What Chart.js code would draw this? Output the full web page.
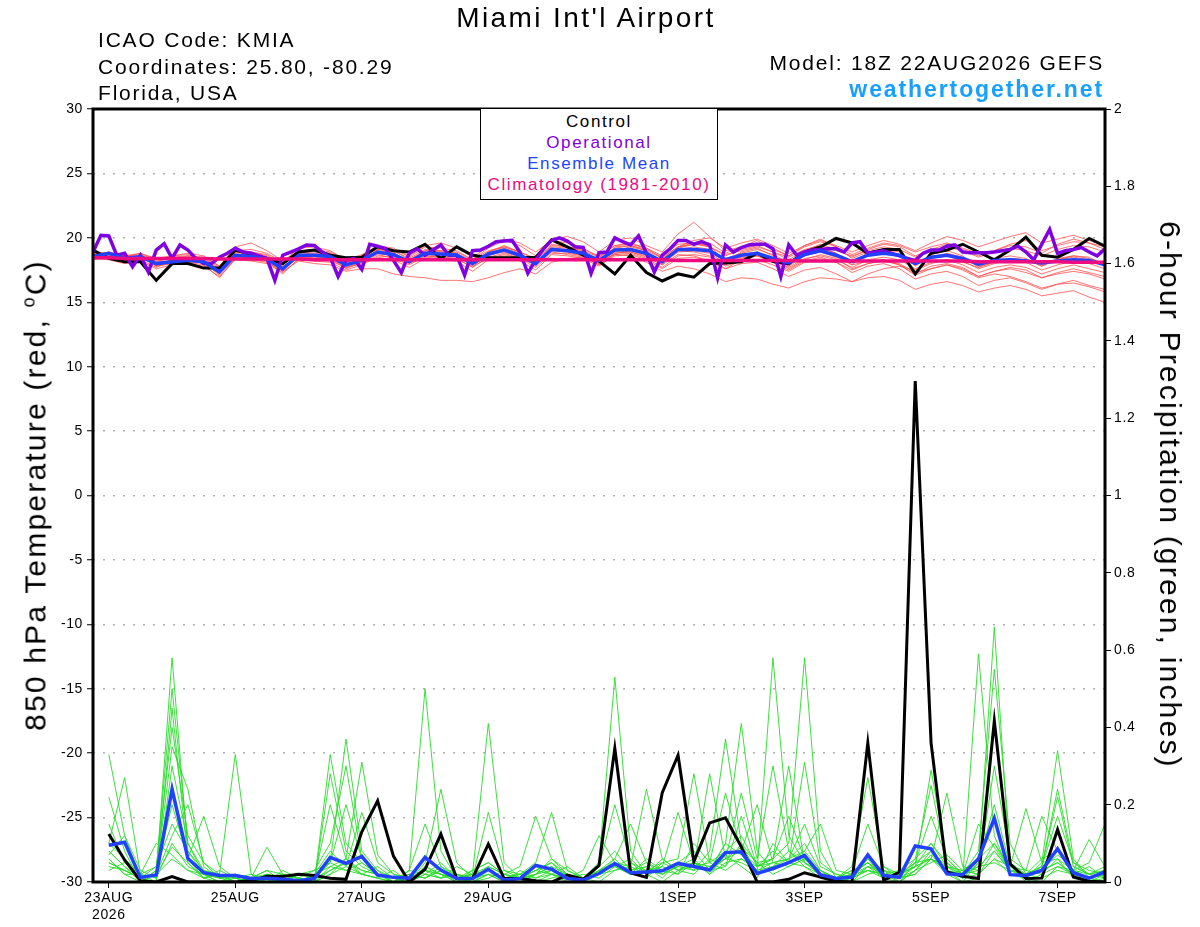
<!DOCTYPE html>
<html>
<head>
<meta charset="utf-8">
<title>Miami Int'l Airport - GEFS</title>
<script src="https://cdn.jsdelivr.net/npm/chart.js@4.4.1/dist/chart.umd.min.js"></script>
<style>
  body { margin: 0; background: #fff; font-family: "Liberation Sans", Arial, sans-serif; }
  #wrap { position: relative; width: 1200px; height: 927px; overflow: hidden; }
  #chart { position: absolute; left: 0; top: 0; }
  .txt { position: absolute; white-space: nowrap; color: #000; }
  #title { left: 0; width: 1172px; top: 2px; text-align: center; font-size: 28px; line-height: 32px; letter-spacing: 2.4px; }
  #info { left: 98px; top: 27px; font-size: 21px; line-height: 26.5px; letter-spacing: 1.8px; }
  #model { right: 96px; top: 50px; font-size: 21px; line-height: 26px; letter-spacing: 1.8px; text-align: right; }
  #site { right: 96px; top: 76px; font-size: 23px; line-height: 26px; letter-spacing: 1.9px; font-weight: bold; color: #19a0ff; text-align: right; }
  #legend { position: absolute; left: 480px; top: 108px; width: 236px; height: 88px; border: 1px solid #000;
            background: #fff; text-align: center; font-size: 17px; line-height: 21px; letter-spacing: 1.6px; padding-top: 2px; }
  .axt { position: absolute; white-space: nowrap; font-size: 30px; letter-spacing: 2.2px; line-height: 34px; color: #000; }
  #ytitle { left: 32px; top: 495px; transform: translate(-50%, -50%) rotate(-90deg); }
  #y2title { left: 1170px; top: 495px; transform: translate(-50%, -50%) rotate(90deg); }
</style>
</head>
<body>
<div id="wrap">
  <canvas id="chart" width="1200" height="927"></canvas>
  <div class="txt" id="title">Miami Int'l Airport</div>
  <div class="txt" id="info">ICAO Code: KMIA<br>Coordinates: 25.80, -80.29<br>Florida, USA</div>
  <div class="txt" id="model">Model: 18Z 22AUG2026 GEFS</div>
  <div class="txt" id="site">weathertogether.net</div>
  <div class="axt" id="ytitle">850 hPa Temperature (red, <sup style="font-size:18px">o</sup>C)</div>
  <div class="axt" id="y2title">6-hour Precipitation (green, inches)</div>
  <div id="legend">
    <div style="color:#000">Control</div>
    <div style="color:#7f00dd">Operational</div>
    <div style="color:#2244ff">Ensemble Mean</div>
    <div style="color:#ee0a80">Climatology (1981-2010)</div>
  </div>
</div>
<script>
// hours after 18Z 22AUG2026; temperatures every 6 h (65), operational every 3 h (129),
// precipitation totals ending every 6 h from 00Z 23AUG (64)
const tickHours = [6, 54, 102, 150, 222, 270, 318, 366];
const tickLabels = ['23AUG\n2026', '25AUG', '27AUG', '29AUG', '1SEP', '3SEP', '5SEP', '7SEP'];

// 850 hPa temperature (C)
const tempControl = [
  19.05,18.4,18.15,18.15,16.7, 18.0,18.0,17.65,17.65,19.05,
  18.7,18.4,18.0,18.9,19.05, 18.65,18.45,18.5,19.3,19.0,
  18.9,19.5,18.4,19.3,18.65, 18.45,18.45,18.45,18.5,19.85,
  19.3,18.65,18.2,17.2,18.65, 17.3,16.65,17.2,16.95,18.0,
  18.05,18.15,18.8,18.15,18.0, 18.9,19.3,19.95,19.6,18.8,
  19.1,19.1,17.2,18.8,19.05, 19.5,18.9,18.3,19.05,20.05,
  18.65,18.5,19.1,19.95,19.35
];
const tempOperational = [
  18.9,20.2,20.15,18.65,18.8,17.75,18.65,17.35,19.05,19.55,
  18.4,19.45,19.05,18.4,18.0,18.0,18.5,18.8,19.2,18.9,
  18.8,18.6,18.4,16.7,18.65,18.9,19.15,19.45,19.4,18.9,
  18.5,17.0,18.25,18.4,17.55,19.5,19.35,19.15,18.25,17.3,
  18.8,19.15,18.65,19.05,19.45,18.65,18.65,17.1,19.0,19.05,
  19.35,19.7,19.75,19.8,18.9,17.25,18.3,19.15,19.8,20.0,
  19.75,19.3,19.25,17.25,18.85,18.9,20.0,19.7,19.45,20.15,
  18.8,17.35,18.65,19.15,19.8,19.8,19.5,19.7,19.45,16.9,
  19.45,18.9,19.25,19.45,19.5,19.5,19.15,17.0,19.45,18.65,
  18.9,19.05,19.1,19.15,19.15,18.9,19.6,19.7,18.8,18.9,
  19.0,18.8,18.6,18.4,18.25,18.8,19.05,19.05,19.35,19.45,
  18.9,18.85,18.85,18.85,18.9,19.0,19.1,19.35,18.9,18.3,
  19.5,20.65,18.8,19.0,19.1,19.25,18.9,18.6,19.15
];
const tempMean = [
  18.55,18.8,18.4,18.55,18.0, 18.15,18.25,18.15,17.35,18.65,
  18.55,18.35,17.6,18.65,18.65, 18.55,17.9,18.25,18.9,18.7,
  18.15,18.8,18.75,18.65,18.0, 18.75,19.05,18.65,18.0,19.1,
  19.0,18.8,18.25,19.05,19.1, 18.8,18.15,19.1,19.1,19.0,
  18.3,18.65,18.8,18.4,18.05, 18.7,19.0,18.65,18.15,18.65,
  18.8,18.65,18.0,18.5,18.65, 18.4,17.95,18.25,18.3,18.2,
  18.05,18.2,18.3,18.25,17.9
];
const tempClimo = [
  18.45,18.45,18.4,18.4,18.4, 18.4,18.4,18.4,18.35,18.35,
  18.35,18.35,18.35,18.35,18.3, 18.3,18.3,18.3,18.3,18.3,
  18.3,18.3,18.3,18.3,18.3, 18.3,18.3,18.3,18.3,18.3,
  18.3,18.3,18.3,18.3,18.3, 18.3,18.3,18.25,18.25,18.25,
  18.25,18.25,18.25,18.25,18.25, 18.2,18.2,18.2,18.2,18.2,
  18.2,18.2,18.2,18.2,18.2, 18.2,18.15,18.15,18.15,18.15,
  18.15,18.15,18.1,18.1,18.1
];
const tempMembers = [
  [18.9,18.6,18.2,18.7,17.8, 18.3,18.6,18.0,17.2,18.9, 18.8,18.2,17.4,18.9,18.7, 18.5,17.6,18.1,19.1,18.9,
   18.0,19.0,19.0,18.8,17.7, 18.9,19.4,18.9,17.8,19.5, 19.3,19.0,18.0,19.3,19.4, 19.0,17.9,19.3,19.6,19.4,
   18.1,18.9,19.2,18.6,17.8, 19.0,19.3,18.8,17.9,18.9, 19.1,18.9,17.8,18.7,19.0, 18.6,17.7,18.4,18.6,18.4,
   17.8,18.4,18.6,18.5,17.8],
  [18.7,18.9,18.6,18.4,18.2, 18.4,18.5,18.3,17.6,18.8, 18.9,18.6,17.9,18.8,18.9, 18.8,18.2,18.5,19.2,19.0,
   18.4,19.1,19.0,18.9,18.3, 19.0,19.3,18.9,18.4,19.4, 19.3,19.1,18.6,19.4,19.5, 19.2,18.6,19.5,19.6,19.3,
   18.7,19.0,19.3,18.9,18.5, 19.1,19.4,19.0,18.6,19.0, 19.3,19.1,18.5,19.0,19.3, 19.0,18.5,18.9,19.2,19.0,
   18.6,19.1,19.4,19.3,18.9],
  [18.4,18.3,18.0,18.2,17.6, 17.9,18.0,17.8,17.0,18.3, 18.2,18.0,17.3,18.3,18.2, 18.1,17.5,17.9,18.5,18.3,
   17.7,18.4,18.3,18.2,17.4, 18.3,18.6,18.2,17.5,18.7, 18.6,18.4,17.8,18.7,18.8, 18.4,17.7,18.6,18.7,18.5,
   17.8,18.2,18.3,17.9,17.4, 18.1,18.4,18.1,17.5,18.0, 18.2,17.9,17.2,17.8,18.0, 17.7,17.0,17.4,17.6,17.3,
   16.9,17.2,17.4,17.2,16.8],
  [18.6,18.7,18.5,18.8,18.3, 18.4,18.3,18.4,17.7,18.6, 18.4,18.5,17.8,18.5,18.4, 18.6,18.1,18.4,18.8,18.6,
   18.2,18.6,18.5,18.5,18.1, 18.7,18.9,18.5,18.1,19.0, 18.9,18.6,18.4,19.1,19.2, 18.8,18.3,19.2,19.5,19.6,
   18.8,19.3,19.8,19.1,18.6, 19.4,19.9,19.3,18.4,18.9, 19.1,18.7,18.0,18.4,18.6, 18.2,17.6,18.0,18.3,18.1,
   17.5,17.9,18.2,18.0,17.6],
  [18.8,18.5,18.3,18.4,17.9, 18.0,18.2,18.1,17.1,18.4, 18.3,18.1,17.4,18.2,18.0, 17.9,17.4,17.6,17.6,17.2,
   17.0,16.9,16.7,16.7,16.6, 16.9,17.3,17.6,17.2,18.1, 18.4,18.5,17.9,18.8,19.0, 18.7,18.1,19.0,19.1,18.9,
   18.2,18.7,18.9,18.4,17.8, 18.6,18.9,18.5,17.9,18.2, 18.3,18.0,17.3,17.6,17.9, 17.5,16.9,17.2,17.0,16.6,
   16.1,16.4,16.5,16.2,15.8],
  [18.5,18.8,18.7,18.5,18.1, 18.6,18.7,18.3,17.5,19.0, 19.1,18.8,18.1,19.2,19.3, 19.0,18.3,18.6,19.4,19.2,
   18.5,19.3,19.2,19.0,18.3, 19.2,19.8,19.4,18.6,19.9, 20.1,19.7,18.9,19.8,20.0, 19.4,18.9,20.3,21.2,20.1,
   19.0,19.3,19.6,19.2,18.6, 19.3,19.7,19.3,18.7,19.2, 19.6,19.4,18.9,19.3,19.6, 19.2,18.8,19.0,19.4,19.3,
   18.8,19.5,19.9,19.6,19.1],
  [18.6,18.4,18.1,18.5,17.9, 18.2,18.4,18.0,17.3,18.7, 18.6,18.3,17.6,18.7,18.6, 18.4,17.8,18.3,18.9,18.7,
   18.1,18.8,18.7,18.6,17.9, 18.6,19.0,18.6,17.9,19.1, 19.0,18.7,18.1,18.9,18.9, 18.5,17.9,18.7,18.6,18.2,
   17.6,18.0,18.1,17.6,17.0, 17.5,17.7,17.2,16.6,16.9, 17.0,16.7,16.0,16.4,16.6, 16.3,15.8,16.1,16.3,16.0,
   15.5,15.7,15.9,15.4,15.0],
  [18.7,18.6,18.4,18.6,18.0, 18.1,18.3,18.2,17.4,18.6, 18.7,18.3,17.5,18.6,18.8, 18.7,18.0,18.4,19.0,18.8,
   18.2,18.9,18.9,18.7,18.0, 18.8,19.2,18.8,18.0,19.2, 19.1,18.9,18.3,19.0,19.3, 19.0,18.4,19.1,19.3,19.1,
   18.4,18.8,19.1,18.7,18.1, 18.8,19.2,18.8,18.1,18.6, 18.9,18.6,17.9,18.5,18.8, 18.5,17.8,18.1,18.4,18.3,
   17.8,18.3,18.5,18.3,17.9],
  [18.8,18.7,18.5,18.3,17.7, 18.2,18.1,17.9,16.9,18.4, 18.3,18.2,17.2,18.4,18.5, 18.3,17.7,18.1,18.7,18.4,
   17.9,18.6,18.5,18.4,17.7, 18.5,18.8,18.4,17.7,18.8, 18.8,18.6,17.9,18.6,18.7, 18.3,17.6,18.4,18.5,18.2,
   17.6,18.3,18.6,18.1,17.5, 18.2,18.5,18.1,17.3,17.8, 18.0,17.6,16.8,17.2,17.4, 17.0,16.3,16.7,16.9,16.5,
   16.0,16.4,16.7,16.3,16.0],
  [18.9,18.8,18.5,18.7,18.3, 18.5,18.6,18.5,17.8,19.3, 19.6,19.0,18.2,19.0,19.1, 18.9,18.3,18.7,19.3,19.1,
   18.6,19.4,19.6,19.2,18.5, 19.3,19.9,19.6,18.9,19.8, 19.6,19.2,18.5,19.4,19.6, 19.2,18.4,19.3,19.5,19.3,
   18.6,19.1,19.4,18.9,18.3, 19.0,19.5,19.1,18.5,19.1, 19.5,19.3,18.6,19.1,19.5, 19.1,18.6,19.0,19.5,19.8,
   19.0,19.4,19.7,19.6,19.3],
  [18.3,18.5,18.3,18.6,17.8, 18.0,18.1,18.1,17.4,18.5, 18.5,18.4,17.7,18.5,18.4, 18.2,17.7,18.0,18.6,18.5,
   18.0,18.5,18.4,18.3,17.8, 18.4,18.7,18.4,17.9,18.9, 18.7,18.5,18.0,18.8,18.9, 18.6,18.0,18.9,19.0,18.8,
   18.0,18.5,18.6,18.2,17.7, 18.4,18.6,18.3,17.7,18.3, 18.5,18.3,17.6,18.1,18.3, 17.9,17.3,17.7,17.9,17.7,
   17.2,17.6,17.9,17.6,17.3],
  [18.5,18.9,18.6,18.8,18.4, 18.6,18.8,18.6,17.8,18.9, 18.9,18.7,17.9,18.9,19.0, 18.8,18.2,18.6,19.1,19.0,
   18.3,19.0,18.9,18.8,18.2, 18.9,19.3,18.9,18.3,19.3, 19.2,19.0,18.5,19.2,19.4, 19.1,18.5,19.3,19.8,20.0,
   19.2,19.6,19.9,19.4,18.8, 19.4,19.8,19.4,18.9,19.4, 19.8,19.5,19.0,19.6,20.1, 19.8,19.3,19.7,20.1,20.4,
   19.6,19.9,20.2,19.8,19.4],
  [18.4,18.6,18.1,18.4,18.1, 18.2,18.5,18.2,17.5,18.5, 18.6,18.4,17.6,18.6,18.6, 18.6,17.9,18.2,18.8,18.6,
   18.1,18.7,18.6,18.6,17.9, 18.7,19.1,18.7,18.0,19.1, 19.0,18.8,18.2,19.0,19.0, 18.7,18.2,19.0,18.9,18.6,
   17.9,18.4,18.7,18.3,17.6, 18.3,18.7,18.4,17.6,18.0, 18.3,17.9,17.1,17.6,17.9, 17.6,17.0,17.4,17.7,17.5,
   16.9,17.3,17.6,17.3,17.0],
  [18.6,18.5,18.4,18.5,17.9, 18.3,18.4,18.1,17.3,18.7, 18.7,18.4,17.7,18.7,18.7, 18.5,18.0,18.3,18.9,18.8,
   18.2,18.8,18.7,18.7,18.1, 18.8,19.1,18.7,18.1,19.1, 19.0,18.8,18.2,18.7,18.6, 18.1,17.4,17.8,17.6,17.2,
   16.6,16.9,16.8,16.4,16.1, 16.6,16.9,16.8,16.6,17.2, 17.6,17.8,17.5,18.0,18.3, 18.1,17.7,18.1,18.4,18.3,
   17.9,18.3,18.6,18.4,18.0]
];

// 6-hour precipitation (inches)
const precipControl = [
  0.124,0.057,0.003,0,0.014,0,0,0,
  0,0.003,0.015,0.014,0.02,0.017,0.01,0.007,
  0.13,0.21,0.067,0,0.033,0.124,0.009,0.009,
  0.098,0.009,0.009,0.003,0,0.018,0.007,0.043,
  0.346,0.024,0.012,0.231,0.328,0.053,0.153,0.166,
  0.091,0,0,0.007,0.024,0.013,0.002,0,
  0.36,0.004,0.026,1.296,0.36,0.026,0.015,0.009,
  0.417,0.047,0.009,0.01,0.136,0.013,0.002,0
];
const precipMean = [
  0.095,0.103,0.012,0.018,0.24,0.061,0.024,0.017,
  0.017,0.009,0.01,0.007,0.003,0.009,0.064,0.048,
  0.066,0.018,0.012,0.01,0.064,0.031,0.009,0.009,
  0.033,0.005,0.009,0.043,0.033,0.009,0.005,0.022,
  0.048,0.024,0.026,0.029,0.048,0.04,0.031,0.076,
  0.078,0.022,0.035,0.05,0.069,0.019,0.009,0.013,
  0.07,0.017,0.012,0.093,0.086,0.021,0.019,0.06,
  0.165,0.019,0.017,0.03,0.086,0.024,0.01,0.026
];
const precipMembers = [
  [0.33,0.12,0.01,0.02,0.58,0.08,0.02,0.0, 0.0,0.01,0.03,0.0,0.0,0.02,0.08,0.04,
   0.02,0.01,0.0,0.03,0.5,0.08,0.01,0.0, 0.02,0.0,0.01,0.03,0.05,0.01,0.0,0.02,
   0.06,0.02,0.04,0.01,0.05,0.08,0.03,0.1, 0.07,0.03,0.58,0.12,0.05,0.02,0.0,0.01,
   0.04,0.01,0.0,0.03,0.08,0.02,0.0,0.05, 0.66,0.04,0.0,0.02,0.06,0.01,0.0,0.02],
  [0.22,0.08,0.0,0.03,0.5,0.1,0.03,0.01, 0.02,0.0,0.01,0.02,0.0,0.0,0.33,0.1,
   0.05,0.02,0.01,0.0,0.04,0.02,0.0,0.01, 0.03,0.01,0.0,0.02,0.04,0.0,0.01,0.05,
   0.53,0.08,0.02,0.0,0.03,0.05,0.02,0.07, 0.04,0.01,0.1,0.05,0.08,0.03,0.0,0.02,
   0.06,0.01,0.02,0.04,0.1,0.05,0.01,0.59, 0.12,0.02,0.01,0.0,0.04,0.02,0.01,0.0],
  [0.1,0.27,0.02,0.0,0.45,0.06,0.01,0.03, 0.01,0.0,0.02,0.0,0.01,0.03,0.05,0.37,
   0.08,0.03,0.0,0.02,0.01,0.04,0.02,0.0, 0.01,0.03,0.02,0.0,0.01,0.02,0.0,0.03,
   0.04,0.02,0.06,0.03,0.02,0.1,0.05,0.08, 0.12,0.04,0.06,0.1,0.58,0.08,0.01,0.0,
   0.02,0.03,0.0,0.05,0.06,0.04,0.01,0.02, 0.08,0.03,0.01,0.05,0.34,0.06,0.01,0.0],
  [0.15,0.05,0.01,0.04,0.4,0.12,0.05,0.02, 0.33,0.02,0.0,0.01,0.0,0.01,0.03,0.05,
   0.02,0.01,0.03,0.0,0.02,0.05,0.01,0.02, 0.41,0.05,0.01,0.0,0.02,0.01,0.0,0.02,
   0.05,0.03,0.01,0.05,0.03,0.02,0.06,0.04, 0.1,0.05,0.02,0.04,0.06,0.02,0.01,0.03,
   0.05,0.02,0.01,0.06,0.1,0.04,0.02,0.08, 0.55,0.1,0.02,0.03,0.05,0.02,0.0,0.01],
  [0.08,0.04,0.0,0.02,0.35,0.24,0.04,0.01, 0.01,0.0,0.02,0.01,0.0,0.0,0.02,0.06,
   0.31,0.07,0.02,0.01,0.03,0.02,0.0,0.03, 0.05,0.02,0.01,0.02,0.06,0.03,0.01,0.0,
   0.03,0.05,0.02,0.04,0.02,0.05,0.03,0.1, 0.41,0.08,0.03,0.05,0.04,0.01,0.0,0.02,
   0.03,0.01,0.02,0.04,0.29,0.06,0.02,0.03, 0.1,0.03,0.02,0.06,0.08,0.03,0.02,0.04],
  [0.05,0.03,0.01,0.0,0.3,0.1,0.02,0.0, 0.02,0.01,0.0,0.03,0.01,0.0,0.28,0.08,
   0.04,0.02,0.0,0.01,0.03,0.01,0.02,0.0, 0.03,0.01,0.02,0.04,0.02,0.0,0.01,0.04,
   0.08,0.03,0.05,0.02,0.04,0.03,0.08,0.37, 0.1,0.02,0.04,0.06,0.1,0.03,0.01,0.04,
   0.27,0.04,0.01,0.02,0.06,0.03,0.0,0.01, 0.42,0.05,0.02,0.01,0.03,0.02,0.04,0.01],
  [0.1,0.06,0.02,0.01,0.25,0.05,0.01,0.02, 0.0,0.01,0.03,0.02,0.0,0.01,0.05,0.03,
   0.02,0.04,0.01,0.0,0.05,0.24,0.05,0.01, 0.02,0.0,0.03,0.01,0.02,0.04,0.01,0.02,
   0.05,0.02,0.03,0.05,0.06,0.28,0.05,0.03, 0.06,0.04,0.08,0.05,0.31,0.05,0.02,0.01,
   0.03,0.02,0.0,0.03,0.05,0.07,0.03,0.02, 0.06,0.02,0.01,0.04,0.24,0.05,0.02,0.01],
  [0.06,0.02,0.0,0.03,0.2,0.06,0.17,0.04, 0.01,0.0,0.01,0.0,0.02,0.03,0.1,0.3,
   0.06,0.03,0.01,0.02,0.01,0.03,0.0,0.02, 0.04,0.02,0.01,0.03,0.05,0.02,0.0,0.03,
   0.04,0.06,0.02,0.03,0.05,0.04,0.28,0.06, 0.05,0.03,0.04,0.08,0.05,0.02,0.01,0.0,
   0.04,0.02,0.01,0.02,0.06,0.23,0.04,0.03, 0.3,0.06,0.03,0.02,0.04,0.03,0.01,0.02],
  [0.04,0.03,0.01,0.02,0.12,0.2,0.05,0.01, 0.02,0.01,0.0,0.01,0.0,0.02,0.04,0.06,
   0.03,0.02,0.0,0.03,0.02,0.01,0.04,0.02, 0.03,0.01,0.02,0.05,0.18,0.03,0.01,0.02,
   0.03,0.04,0.02,0.06,0.03,0.04,0.05,0.23, 0.08,0.04,0.06,0.3,0.05,0.03,0.01,0.02,
   0.05,0.02,0.03,0.06,0.25,0.05,0.02,0.04, 0.05,0.03,0.02,0.04,0.22,0.04,0.02,0.03],
  [0.03,0.05,0.02,0.04,0.15,0.08,0.03,0.02, 0.01,0.0,0.02,0.01,0.0,0.0,0.03,0.05,
   0.03,0.02,0.01,0.0,0.04,0.02,0.01,0.03, 0.05,0.02,0.04,0.17,0.06,0.02,0.0,0.03,
   0.05,0.04,0.24,0.06,0.03,0.05,0.04,0.06, 0.08,0.2,0.05,0.04,0.06,0.02,0.0,0.01,
   0.06,0.03,0.02,0.05,0.08,0.04,0.03,0.02, 0.06,0.04,0.19,0.05,0.06,0.03,0.05,0.15],
  [0.07,0.12,0.03,0.01,0.1,0.04,0.02,0.01, 0.0,0.01,0.0,0.02,0.01,0.0,0.02,0.04,
   0.18,0.05,0.02,0.01,0.03,0.02,0.01,0.0, 0.02,0.01,0.0,0.02,0.03,0.01,0.02,0.01,
   0.04,0.02,0.03,0.04,0.18,0.05,0.03,0.06, 0.23,0.06,0.3,0.08,0.04,0.02,0.01,0.02,
   0.04,0.03,0.01,0.03,0.07,0.03,0.01,0.05, 0.2,0.04,0.02,0.03,0.05,0.02,0.01,0.03],
  [0.08,0.04,0.01,0.02,0.09,0.05,0.01,0.0, 0.01,0.02,0.01,0.0,0.02,0.01,0.2,0.06,
   0.02,0.01,0.0,0.02,0.01,0.03,0.02,0.01, 0.18,0.03,0.01,0.02,0.04,0.02,0.01,0.03,
   0.06,0.15,0.05,0.03,0.04,0.06,0.02,0.05, 0.06,0.03,0.05,0.06,0.08,0.15,0.03,0.02,
   0.05,0.01,0.02,0.04,0.06,0.02,0.03,0.06, 0.1,0.04,0.03,0.17,0.08,0.03,0.11,0.04],
  [0.06,0.02,0.02,0.1,0.07,0.03,0.01,0.02, 0.0,0.01,0.02,0.01,0.0,0.02,0.05,0.2,
   0.06,0.02,0.01,0.0,0.02,0.01,0.02,0.01, 0.04,0.02,0.01,0.03,0.02,0.01,0.03,0.12,
   0.05,0.03,0.04,0.02,0.05,0.03,0.04,0.06, 0.09,0.05,0.06,0.17,0.06,0.03,0.01,0.03,
   0.15,0.04,0.02,0.05,0.17,0.06,0.02,0.04, 0.08,0.03,0.02,0.04,0.17,0.05,0.03,0.02],
  [0.05,0.03,0.01,0.02,0.06,0.03,0.02,0.01, 0.02,0.01,0.09,0.02,0.01,0.0,0.04,0.03,
   0.05,0.02,0.0,0.03,0.15,0.04,0.01,0.02, 0.03,0.01,0.02,0.01,0.03,0.02,0.0,0.04,
   0.2,0.05,0.03,0.02,0.04,0.05,0.03,0.04, 0.17,0.04,0.05,0.06,0.15,0.04,0.02,0.01,
   0.03,0.02,0.01,0.04,0.06,0.03,0.02,0.15, 0.09,0.03,0.02,0.03,0.07,0.04,0.02,0.03]
];

// step = hours between values, first = hour of the first value
function series(values, step, first, color, width, axis) {
  return {
    data: values.map((v, i) => ({ x: first + i * step, y: v })),
    borderColor: color,
    borderWidth: width,
    pointRadius: 0,
    fill: false,
    tension: 0,
    yAxisID: axis
  };
}

// first dataset is drawn on top
const datasets = [
  series(tempClimo, 6, 0, '#ee0a80', 3.5, 'y'),
  series(tempMean, 6, 0, '#2140ff', 3.5, 'y'),
  series(tempOperational, 3, 0, '#7f00e0', 3.5, 'y'),
  series(tempControl, 6, 0, '#000000', 3, 'y'),
  series(precipMean, 6, 6, '#2140ff', 3.5, 'y2'),
  series(precipControl, 6, 6, '#000000', 3, 'y2')
];
tempMembers.forEach(m => datasets.push(series(m, 6, 0, 'rgba(255,70,70,0.75)', 1, 'y')));
precipMembers.forEach(m => datasets.push(series(m, 6, 6, 'rgba(40,220,40,0.9)', 1, 'y2')));

const frame = {
  id: 'frame',
  beforeDraw(chart) {
    chart.ctx.letterSpacing = '0.6px';
  },
  afterDraw(chart) {
    const { ctx, chartArea: a } = chart;
    ctx.save();
    ctx.lineWidth = 3;
    ctx.strokeStyle = '#000';
    ctx.strokeRect(a.left, a.top, a.right - a.left, a.bottom - a.top);
    ctx.restore();
  }
};

Chart.defaults.font.family = '"Liberation Sans", Arial, sans-serif';
Chart.defaults.color = '#000';

new Chart(document.getElementById('chart'), {
  type: 'line',
  data: { datasets },
  plugins: [frame],
  options: {
    responsive: false,
    animation: false,
    devicePixelRatio: 1,
    layout: { padding: { top: 109, left: 0, right: 0, bottom: 0 } },
    plugins: { legend: { display: false }, tooltip: { enabled: false } },
    scales: {
      x: {
        type: 'linear',
        min: 0,
        max: 384,
        afterBuildTicks: s => { s.ticks = tickHours.map(v => ({ value: v })); },
        afterFit: s => { s.height = 45; },
        ticks: {
          autoSkip: false,
          maxRotation: 0,
          padding: 2,
          font: { size: 14 },
          callback: v => {
            const l = tickLabels[tickHours.indexOf(v)] || '';
            return l.indexOf('\n') >= 0 ? l.split('\n') : l;
          }
        },
        grid: { drawOnChartArea: false, tickLength: 6, tickColor: '#000' },
        border: { display: false }
      },
      y: {
        position: 'left',
        min: -30,
        max: 30,
        afterFit: s => { s.width = 93; },
        ticks: { stepSize: 5, padding: 4, font: { size: 14 } },
        grid: { color: '#b0b0b0', lineWidth: 1.5, tickLength: 6, tickColor: '#000', tickWidth: 1 },
        border: { display: false, dash: [2, 8] }
      },
      y2: {
        position: 'right',
        min: 0,
        max: 2,
        afterFit: s => { s.width = 95; },
        ticks: {
          stepSize: 0.2,
          padding: 3,
          font: { size: 14 },
          callback: v => String(Math.round(v * 10) / 10)
        },
        grid: { drawOnChartArea: false, tickLength: 6, tickColor: '#000', tickWidth: 1 },
        border: { display: false }
      }
    }
  }
});
</script>
</body>
</html>
